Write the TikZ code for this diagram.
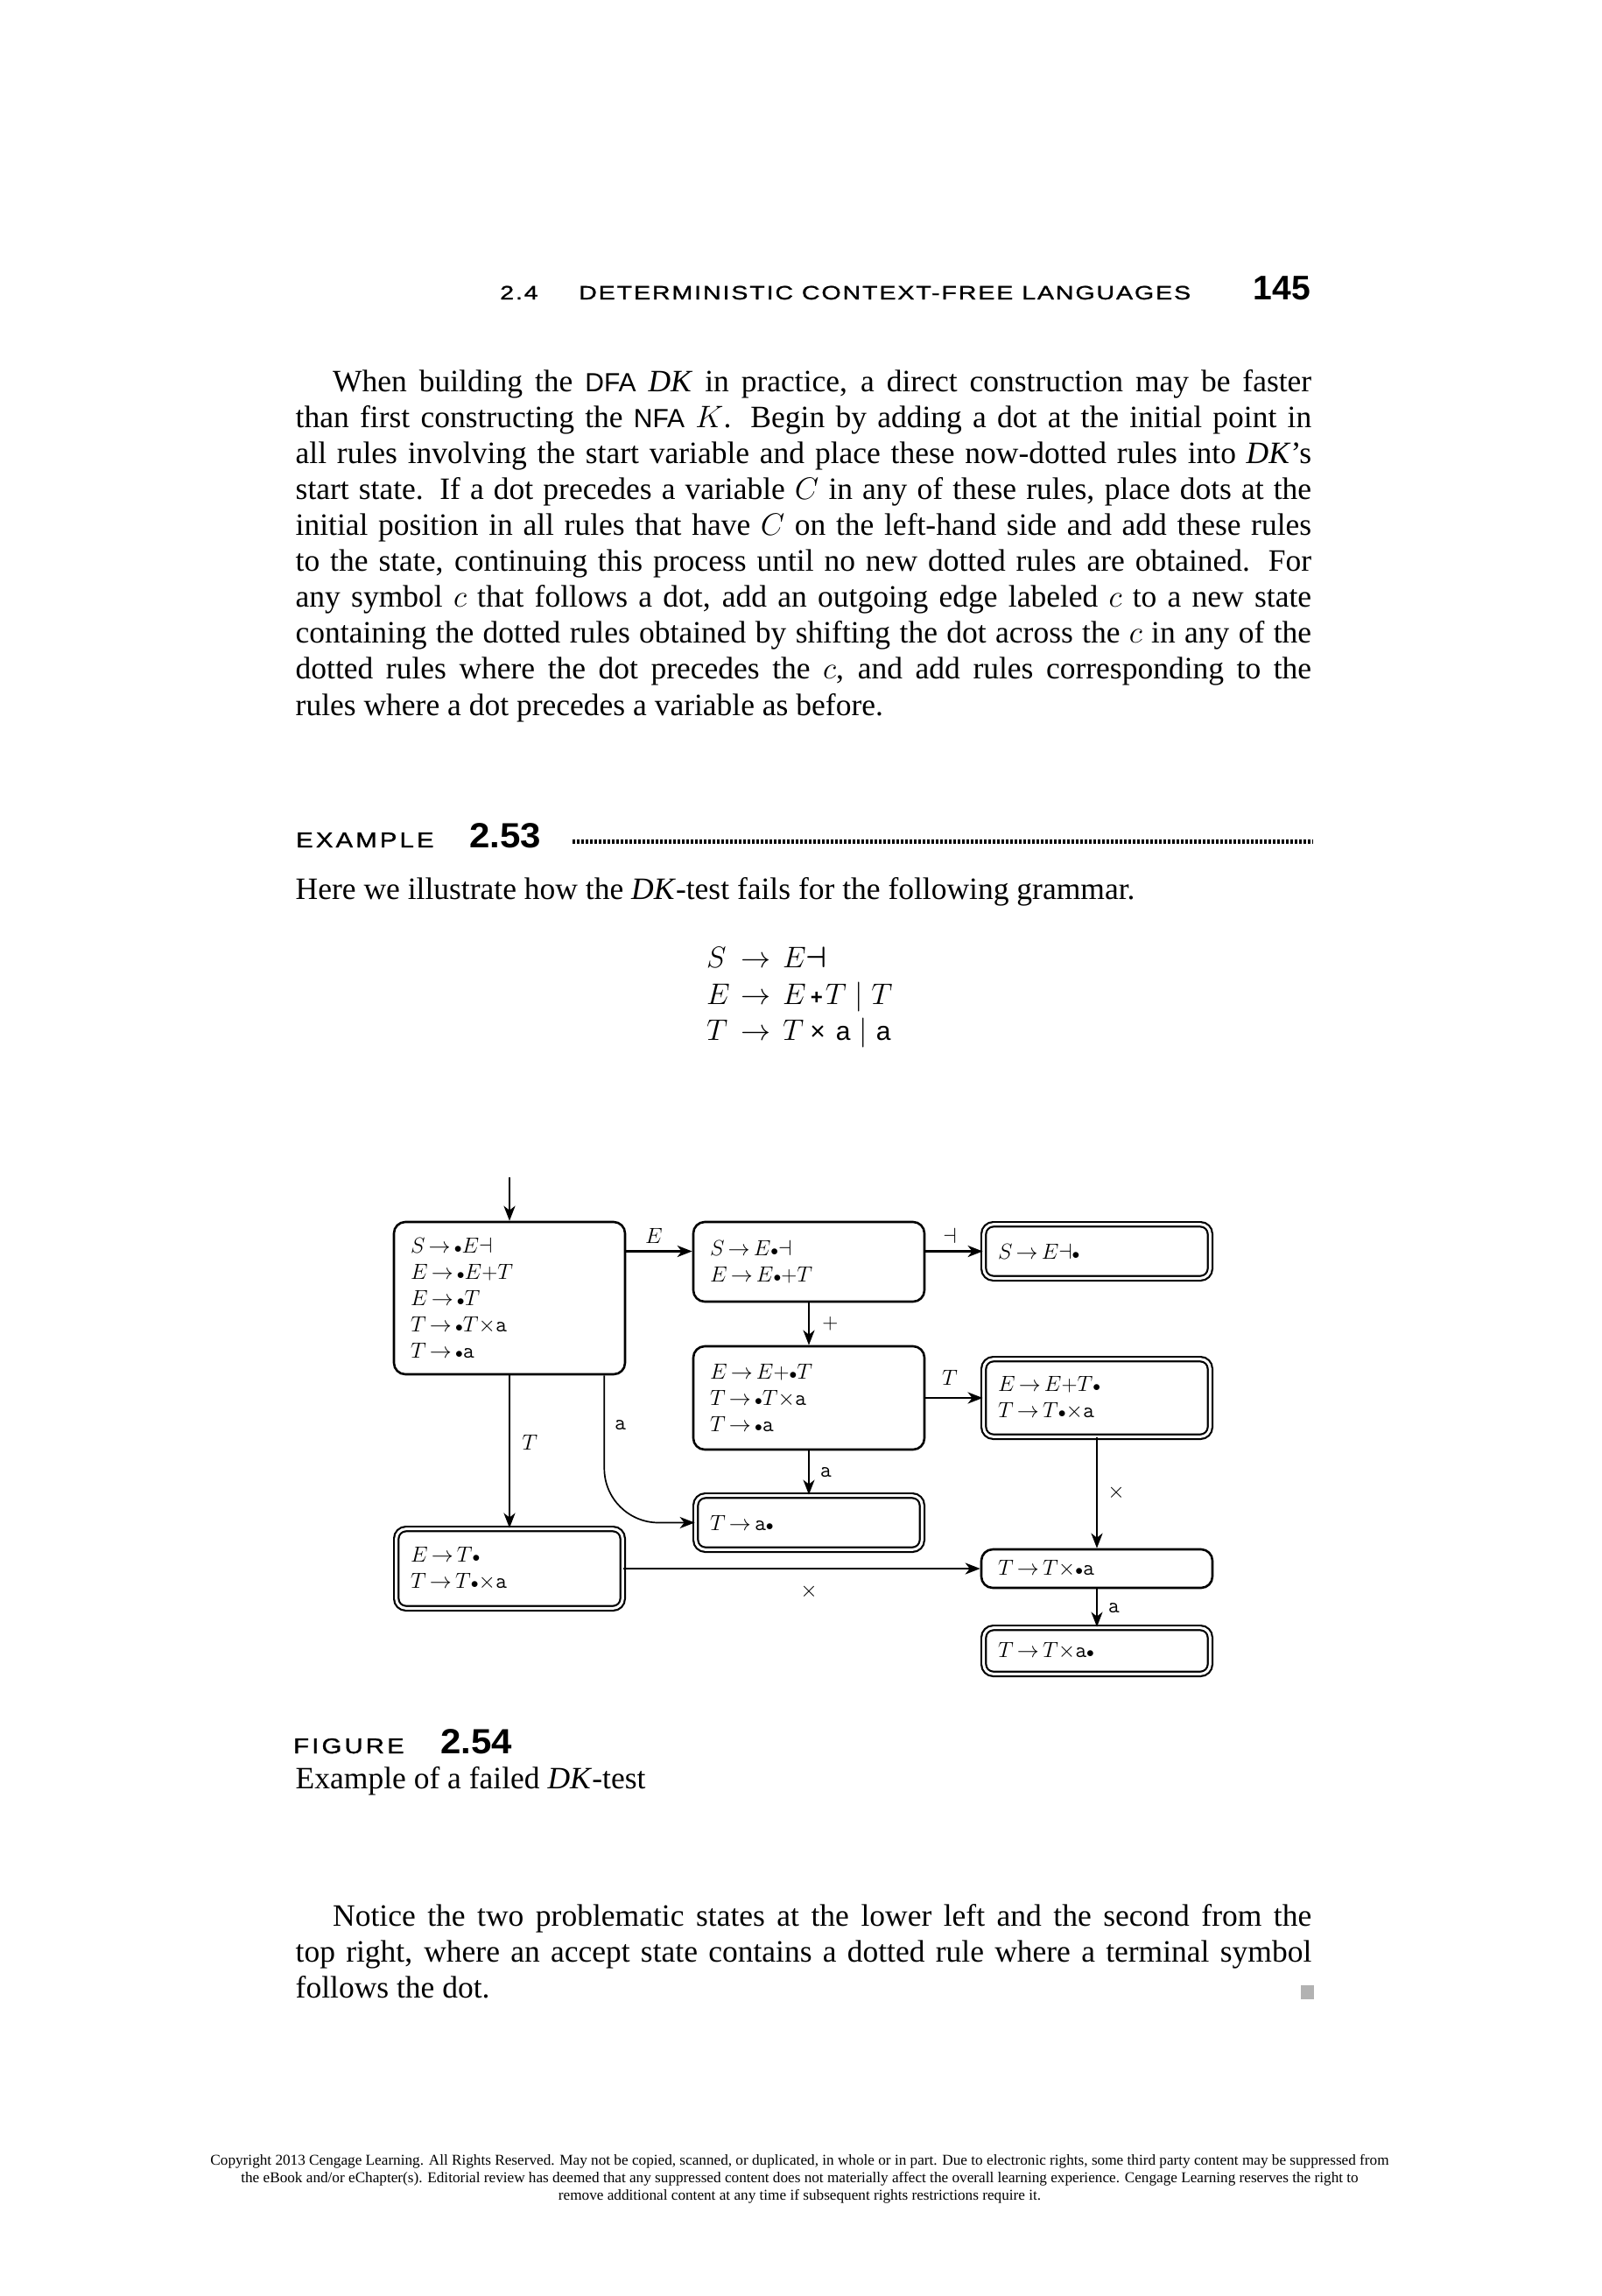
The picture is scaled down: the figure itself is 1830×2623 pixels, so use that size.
\documentclass[tikz,border=0pt]{standalone}
\usepackage{fix-cm}
\usepackage{amsmath}
\usepackage[no-math]{fontspec}
\setmainfont{Liberation Serif}
\setsansfont{Liberation Sans}
\newfontfamily\capsfont{Liberation Sans}[LetterSpace=13,FakeStretch=1.2,FakeBold=1.2]
\newfontfamily\headfont{Liberation Sans}[LetterSpace=8.5,FakeStretch=1.3,FakeBold=1.2]
\newfontfamily\numfont{Liberation Sans}[FakeStretch=1.05]
\usetikzlibrary{arrows.meta}
\newcommand\bodyfont{\fontsize{35.5}{41}\selectfont}
\newcommand\dfont{\fontsize{25}{30}\selectfont}
\newcommand\sm[1]{{\fontsize{30}{32}\selectfont\sffamily #1}}
\newcommand\rar{\mathrel{\mkern-2mu\rightarrow\mkern-2mu}}
\newcommand\dt{{\scriptstyle\bullet}}
\newcommand\ta{\mathtt{a}}
\newcommand\tm{{\times}}
\newcommand\dv{{\dashv}}
\tikzset{
  box/.style={draw, rounded corners=13pt, line width=2.6pt, text width=226pt, align=left,
    inner xsep=19pt, inner ysep=0pt, font=\dfont, outer sep=auto},
  acc/.style={box, double, double distance=3pt, line width=2.2pt, inner xsep=16.3pt, rounded corners=11pt},
  tr/.style={line width=2.6pt, -{Stealth[length=17pt,width=13pt,inset=5pt]}},
  tra/.style={tr, line width=1.7pt},
  lab/.style={inner sep=0pt, font=\dfont},
  txt/.style={anchor=base west, inner sep=0pt, font=\bodyfont},
}
\begin{document}
\begin{tikzpicture}[x=1pt,y=-1pt]
\useasboundingbox (0,0) rectangle (1830,2623);
\fill[white] (0,0) rectangle (1830,2623);

% running head
\node[anchor=base west, inner sep=0pt] (hn) at (571,342) {\fontsize{22}{24}\headfont 2.4};
\node[anchor=base west, inner sep=0pt] (ht) at (661,342) {\fontsize{22}{24}\headfont DETERMINISTIC CONTEXT-FREE LANGUAGES};
\node[anchor=base east, inner sep=0pt] (pg) at (1497,342) {\fontsize{39}{40}\selectfont\sffamily\bfseries 145};

% paragraph 1
\node[txt] (p1) at (380,447) {\makebox[1118pt][s]{When building the \sm{DFA} \textit{DK} in practice, a direct construction may be faster}};
\node[txt] (p2) at (337.5,488) {\makebox[1160.5pt][s]{than first constructing the \sm{NFA} $K$. Begin by adding a dot at the initial point in}};
\node[txt] (p3) at (337.5,529) {\makebox[1160.5pt][s]{all rules involving the start variable and place these now-dotted rules into \textit{DK}’s}};
\node[txt] (p4) at (337.5,570) {\makebox[1160.5pt][s]{start state. If a dot precedes a variable $C$ in any of these rules, place dots at the}};
\node[txt] (p5) at (337.5,611) {\makebox[1160.5pt][s]{initial position in all rules that have $C$ on the left-hand side and add these rules}};
\node[txt] (p6) at (337.5,652.5) {\makebox[1160.5pt][s]{to the state, continuing this process until no new dotted rules are obtained. For}};
\node[txt] (p7) at (337.5,693.5) {\makebox[1160.5pt][s]{any symbol $c$ that follows a dot, add an outgoing edge labeled $c$ to a new state}};
\node[txt] (p8) at (337.5,734.5) {\makebox[1160.5pt][s]{containing the dotted rules obtained by shifting the dot across the $c$ in any of the}};
\node[txt] (p9) at (337.5,775.5) {\makebox[1160.5pt][s]{dotted rules where the dot precedes the $c$, and add rules corresponding to the}};
\node[txt] (p10) at (337.5,817) {rules where a dot precedes a variable as before.};

% example heading
\node[anchor=base west, inner sep=0pt] (ex) at (338,968) {\fontsize{24.4}{26}\capsfont EXAMPLE};
\node[anchor=base west, inner sep=0pt] (exn) at (536,968) {\fontsize{40}{42}\numfont\bfseries 2.53};
\draw[line width=5pt, dash pattern=on 3pt off 2pt] (654,961) -- (1500,961);
\node[txt] (q1) at (337.5,1027) {Here we illustrate how the \textit{DK}-test fails for the following grammar.};

% grammar
\node[anchor=base west, inner sep=0pt, font=\fontsize{34}{40}\selectfont] (g1) at (807,1105)
  {\makebox[39pt][l]{$S$}\makebox[48pt][l]{$\rightarrow$}$E\mathord{\boldsymbol{\dashv}}$};
\node[anchor=base west, inner sep=0pt, font=\fontsize{34}{40}\selectfont] (g2) at (807,1147)
  {\makebox[39pt][l]{$E$}\makebox[48pt][l]{$\rightarrow$}$E$\kern5pt{\fontsize{24}{24}\selectfont\sffamily\bfseries +}\kern3pt$T\mid T$};
\node[anchor=base west, inner sep=0pt, font=\fontsize{34}{40}\selectfont] (g3) at (807,1188)
  {\makebox[39pt][l]{$T$}\makebox[48pt][l]{$\rightarrow$}$T$\kern7pt{\fontsize{30}{30}\selectfont\sffamily ×}\kern12pt{\fontsize{30}{30}\selectfont\sffamily a}\kern10pt$|$\kern10pt{\fontsize{30}{30}\selectfont\sffamily a}};

% states
\node[box, minimum height=174pt] (s0) at (582,1483)
  {$S\rar\dt E\dv$\\ $E\rar\dt E{+}T$\\ $E\rar\dt T$\\ $T\rar\dt T\tm\ta$\\ $T\rar\dt\ta$};
\node[box, minimum height=91pt] (s1) at (924,1441.5)
  {$S\rar E\dt\dv$\\ $E\rar E\dt{+}T$};
\node[acc, minimum height=61.6pt] (s2) at (1253,1429.5)
  {$S\rar E\dv\dt$};
\node[box, minimum height=118pt] (s3) at (924,1597)
  {$E\rar E{+}\dt T$\\ $T\rar\dt T\tm\ta$\\ $T\rar\dt\ta$};
\node[acc, minimum height=88.6pt] (s4) at (1253,1597)
  {$E\rar E{+}T\dt$\\ $T\rar T\dt\tm\ta$};
\node[acc, minimum height=61.6pt] (s5) at (924,1739.5)
  {$T\rar\ta\dt$};
\node[acc, minimum height=90.6pt] (s6) at (582,1792)
  {$E\rar T\dt$\\ $T\rar T\dt\tm\ta$};
\node[box, minimum height=44pt] (s7) at (1253,1792)
  {$T\rar T\tm\dt\ta$};
\node[acc, minimum height=52.6pt] (s8) at (1253,1886)
  {$T\rar T\tm\ta\dt$};

% transitions
\coordinate (init) at (582,1345);
\draw[tr] (init) -- (s0);
\draw[tr] (s0.east |- s2.center) -- node[lab, above=8pt, xshift=-6pt] {$E$} (s1.west |- s2.center);
\draw[tr] (s1.east |- s2.center) -- node[lab, above=8pt, xshift=-5pt] {$\dashv$} (s2.west);
\draw[tr] (s1) -- node[lab, right=14pt] {$+$} (s3);
\draw[tr] (s3) -- node[lab, above=13pt, xshift=-5pt] {$T$} (s4);
\draw[tr] (s0) -- node[lab, pos=0.44, right=13pt] {$T$} (s6);
\draw[tra, rounded corners=62pt] ([xshift=-25pt]s0.south east) |- node[lab, pos=0.17, right=11pt] {$\ta$} (s5.west);
\draw[tra] (s3) -- node[lab, right=12pt] {$\ta$} (s5);
\draw[tr] (s4) -- node[lab, right=11pt] {$\times$} (s7);
\draw[tr] (s6) -- node[lab, below=17pt, xshift=8pt] {$\times$} (s7);
\draw[tra] (s7) -- node[lab, right=12pt] {$\ta$} (s8);

% caption
\node[anchor=base west, inner sep=0pt] (fg) at (335,2003) {\fontsize{24.4}{26}\capsfont FIGURE};
\node[anchor=base west, inner sep=0pt] (fgn) at (503,2003) {\fontsize{40}{42}\numfont\bfseries 2.54};
\node[txt] (cap) at (337.5,2043) {Example of a failed \textit{DK}-test};

% paragraph 2
\node[txt] (r1) at (380,2200) {\makebox[1118pt][s]{Notice the two problematic states at the lower left and the second from the}};
\node[txt] (r2) at (337.5,2241) {\makebox[1160.5pt][s]{top right, where an accept state contains a dotted rule where a terminal symbol}};
\node[txt] (r3) at (337.5,2282) {follows the dot.};
\fill[black!30] (1486,2268) rectangle (1501,2284);

% footer
\node[anchor=base, inner sep=0pt, font=\fontsize{17.2}{20}\selectfont] (f1) at (913.5,2473) {Copyright 2013 Cengage Learning. All Rights Reserved. May not be copied, scanned, or duplicated, in whole or in part. Due to electronic rights, some third party content may be suppressed from};
\node[anchor=base, inner sep=0pt, font=\fontsize{17.2}{20}\selectfont] (f2) at (913.5,2493) {the eBook and/or eChapter(s). Editorial review has deemed that any suppressed content does not materially affect the overall learning experience. Cengage Learning reserves the right to};
\node[anchor=base, inner sep=0pt, font=\fontsize{17.2}{20}\selectfont] (f3) at (913.5,2513) {remove additional content at any time if subsequent rights restrictions require it.};
\end{tikzpicture}
\end{document}
